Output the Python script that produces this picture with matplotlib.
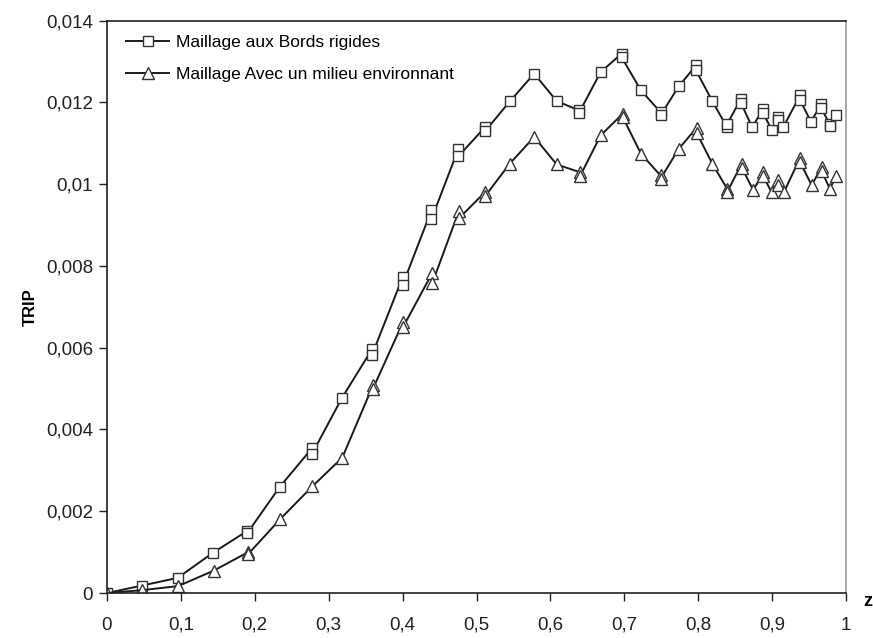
import matplotlib
matplotlib.use("Agg")
import matplotlib.pyplot as plt
from matplotlib.ticker import FuncFormatter, MultipleLocator

# squares: "Maillage aux Bords rigides"
z_rig = [0.0, 0.047, 0.0956, 0.1439, 0.19, 0.19, 0.234, 0.2774, 0.2774, 0.3176,
         0.3586, 0.3586, 0.400, 0.400, 0.439, 0.439, 0.4755, 0.4755, 0.5115, 0.5115,
         0.545, 0.578, 0.6085, 0.639, 0.639, 0.668, 0.6964, 0.6964, 0.7226, 0.749,
         0.749, 0.7736, 0.797, 0.797, 0.819, 0.839, 0.839, 0.858, 0.858, 0.873,
         0.888, 0.888, 0.8994, 0.908, 0.908, 0.915, 0.9378, 0.9378, 0.9526, 0.966,
         0.966, 0.978, 0.978, 0.987]
trip_rig = [0.0, 0.00018, 0.00037, 0.00099, 0.00152, 0.00147, 0.0026, 0.00354, 0.0034, 0.00476,
            0.00596, 0.00582, 0.00772, 0.00753, 0.00936, 0.00914, 0.01086, 0.01068, 0.01139, 0.01129,
            0.01202, 0.0127, 0.01203, 0.0118, 0.01175, 0.01274, 0.01319, 0.0131, 0.01229, 0.01176,
            0.01168, 0.01239, 0.0129, 0.01278, 0.01203, 0.01139, 0.01146, 0.01209, 0.01198, 0.01139,
            0.01184, 0.01173, 0.01133, 0.01164, 0.01156, 0.01139, 0.01217, 0.01206, 0.01152, 0.01195,
            0.01187, 0.01147, 0.01141, 0.0117]

# triangles: "Maillage Avec un milieu environnant"
z_env = [0.0, 0.048, 0.0965, 0.1448, 0.191, 0.191, 0.234, 0.278, 0.3184, 0.36,
         0.36, 0.4005, 0.4005, 0.44, 0.44, 0.476, 0.476, 0.5115, 0.5115, 0.545,
         0.578, 0.6085, 0.64, 0.64, 0.668, 0.6978, 0.6978, 0.7226, 0.749, 0.749,
         0.7736, 0.798, 0.798, 0.819, 0.839, 0.839, 0.859, 0.859, 0.8746, 0.888,
         0.888, 0.8994, 0.908, 0.908, 0.916, 0.9378, 0.9378, 0.9536, 0.967, 0.967,
         0.978, 0.987]
trip_env = [0.0, 0.00007, 0.00017, 0.00055, 0.001, 0.00095, 0.0018, 0.00261, 0.00331, 0.00508,
            0.005, 0.00662, 0.0065, 0.00782, 0.00757, 0.00933, 0.00916, 0.0098, 0.0097, 0.0105,
            0.01115, 0.01048, 0.01029, 0.01019, 0.01119, 0.01172, 0.01164, 0.01074, 0.01021, 0.01013,
            0.01086, 0.01138, 0.01125, 0.0105, 0.00989, 0.0098, 0.0105, 0.0104, 0.00985, 0.01029,
            0.01019, 0.0098, 0.01009, 0.00997, 0.0098, 0.01064, 0.01054, 0.00997, 0.01042, 0.01032,
            0.00989, 0.01019]

labels = ["Maillage aux Bords rigides", "Maillage Avec un milieu environnant"]

plt.rcParams["font.family"] = ["Liberation Sans", "DejaVu Sans"]

fig = plt.figure(figsize=(8.73, 6.38), dpi=100)
ax = fig.add_axes([107 / 873, 1 - 593 / 638, 739 / 873, 572.5 / 638])

ax.plot(z_rig, trip_rig, color="#1a1a1a", lw=1.4, marker="s", ms=7,
        mfc="white", mec="#333333", mew=1.0, label=labels[0])
ax.plot(z_env, trip_env, color="#1a1a1a", lw=1.4, marker="^", ms=8,
        mfc="white", mec="#333333", mew=1.0, label=labels[1])

ax.set_xlim(0, 1)
ax.set_ylim(0, 0.014)
ax.xaxis.set_major_locator(MultipleLocator(0.1))
ax.yaxis.set_major_locator(MultipleLocator(0.002))
fmt = FuncFormatter(lambda v, p: f"{v:g}".replace(".", ","))
ax.xaxis.set_major_formatter(fmt)
ax.yaxis.set_major_formatter(fmt)
ax.tick_params(axis="both", direction="out", length=6, width=1, labelsize=13.5,
               colors="#222222")
ax.tick_params(axis="x", pad=11)
ax.tick_params(axis="y", pad=4)

for s in ["left", "bottom", "top"]:
    ax.spines[s].set_color("#222222")
    ax.spines[s].set_linewidth(1.2)
ax.spines["right"].set_color("#999999")
ax.spines["right"].set_linewidth(1.2)

ax.set_ylabel("TRIP", fontsize=12, fontweight="bold", labelpad=6)
fig.text(868 / 873, 1 - 601 / 638, "z", fontsize=13, fontweight="bold",
         ha="center", va="center")

ax.legend(loc="upper left", bbox_to_anchor=(126 / 873, 1 - 35 / 638),
          bbox_transform=fig.transFigure, frameon=False, fontsize=12.5,
          handlelength=2.5, handletextpad=0.4, labelspacing=0.98,
          borderpad=0, borderaxespad=0)

fig.savefig("out.png", dpi=100)
